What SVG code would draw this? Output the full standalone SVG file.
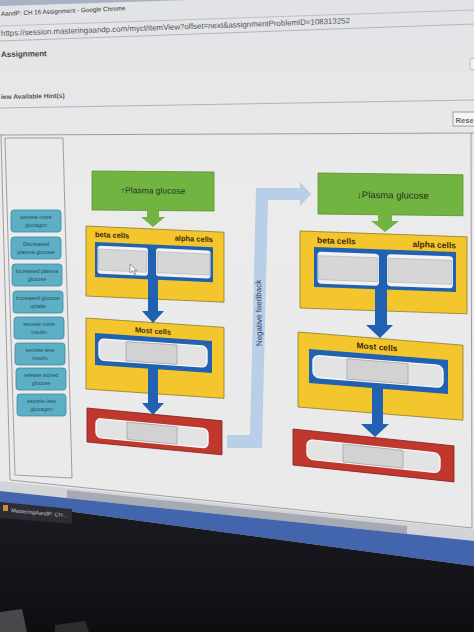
<svg xmlns="http://www.w3.org/2000/svg" width="474" height="632" viewBox="0 0 474 632">
<defs>
<linearGradient id="bg" x1="0" y1="0" x2="0" y2="1">
<stop offset="0" stop-color="#e2e3e6"/><stop offset="0.3" stop-color="#ebebec"/><stop offset="1" stop-color="#e9e9ea"/>
</linearGradient>
<linearGradient id="dark" x1="0" y1="0" x2="0" y2="1">
<stop offset="0" stop-color="#1b1b22"/><stop offset="1" stop-color="#0e0e12"/>
</linearGradient>
</defs>
<style>
text{font-family:"Liberation Sans","DejaVu Sans",sans-serif}
.green{fill:#72b442;stroke:#5a8f32;stroke-width:0.8}
.yellow{fill:#f4c62d;stroke:#8e7c2c;stroke-width:0.8}
.red{fill:#c0372e;stroke:#7e201a;stroke-width:0.8}
.blue{fill:#2161b2}
.slotO{fill:#f2f2f2}
.slotI{fill:#d6d6d6;stroke:#a2a7ad;stroke-width:0.5}
.rowO{fill:#e3e3e3;stroke:#f7f7f7;stroke-width:1.4}
.mid{fill:#d2d2d2;stroke:#979797;stroke-width:0.6}
.lbl{fill:#3a2a0c;font-weight:bold}
.gtxt{fill:#25321a}
.chip rect{fill:#5cafc5;stroke:#3d8ba3;stroke-width:0.8}
.chip text{fill:#2a4c5e;font-size:5.4px;text-anchor:middle}
.conn{fill:#2161b2}
.garrow{fill:#72b442}
.frame{fill:none;stroke:#8c8c8e;stroke-width:0.8}
</style>

<rect x="0" y="0" width="474" height="632" fill="url(#bg)"/>
<polygon points="0,0 190,0 0,6" fill="#a9b2c2"/>

<g id="browser-chrome">
<line x1="0" y1="26" x2="474" y2="10" stroke="#b5b7bb" stroke-width="0.8"/>
<line x1="0" y1="41" x2="474" y2="24" stroke="#a8aaae" stroke-width="0.8"/>
<text x="1" y="16" font-size="6.3" fill="#333" transform="rotate(-2.6 1 16)">AandP: CH 16 Assignment - Google Chrome</text>
<text x="1" y="36" font-size="7.9" fill="#555" transform="rotate(-2.1 1 36)">https://session.masteringaandp.com/myct/itemView?offset=next&amp;assignmentProblemID=108313252</text>
<text x="1" y="57" font-size="8" font-weight="bold" fill="#444" transform="rotate(-1 1 57)">Assignment</text>
<rect x="470" y="58" width="10" height="12" rx="2" fill="#f2f2f2" stroke="#a8a8a8" stroke-width="0.7"/>
<text x="1" y="99" font-size="6.6" font-weight="bold" fill="#555" transform="rotate(-1 1 99)">iew Available Hint(s)</text>
<line x1="0" y1="108" x2="474" y2="100" stroke="#a5a6a9" stroke-width="0.8"/>
<rect x="453" y="112" width="30" height="14" fill="#f4f4f4" stroke="#8a8a8a" stroke-width="0.8"/>
<text x="455.5" y="122.5" font-size="7.6" font-weight="bold" fill="#666">Rese</text>
</g>

<g id="panel">
<polyline class="frame" points="0,135 474,133"/>
<polyline class="frame" points="1,135 10,480 472,528 471,133"/>
<polygon class="frame" points="5,138 63,138 72,478 15,475"/>
</g>

<g id="palette">
<g class="chip"><rect x="11" y="210" width="50" height="22" rx="3"/><text x="36" y="219">secrete more</text><text x="36" y="227">glucagon</text></g>
<g class="chip"><rect x="11" y="237" width="50" height="22" rx="3"/><text x="36" y="246">Decreased</text><text x="36" y="254">plasma glucose</text></g>
<g class="chip"><rect x="12" y="264" width="50" height="22" rx="3"/><text x="37" y="273">Increased plasma</text><text x="37" y="281">glucose</text></g>
<g class="chip"><rect x="13" y="291" width="50" height="22" rx="3"/><text x="38" y="300">Increased glucose</text><text x="38" y="308">uptake</text></g>
<g class="chip"><rect x="14" y="317" width="50" height="22" rx="3"/><text x="39" y="326">secrete more</text><text x="39" y="334">insulin</text></g>
<g class="chip"><rect x="15" y="343" width="50" height="22" rx="3"/><text x="40" y="352">secrete less</text><text x="40" y="360">insulin</text></g>
<g class="chip"><rect x="16" y="368" width="50" height="22" rx="3"/><text x="41" y="377">release stored</text><text x="41" y="385">glucose</text></g>
<g class="chip"><rect x="17" y="394" width="49" height="22" rx="3"/><text x="41.5" y="403">secrete less</text><text x="41.5" y="411">glucagon</text></g>
</g>

<g id="feedback-arrow">
<polygon points="227,435 250,435 256,188 300,188 300,182 311,194 300,206 300,200 268,200 262,448 227,448" fill="#b8cfe7"/>
<text x="259" y="313" font-size="8" fill="#2d3d5e" text-anchor="middle" dominant-baseline="central" transform="rotate(-90.8 259 313)">Negative feedback</text>
</g>

<g id="high-glucose" transform="matrix(1,0.008,0,1,0,-0.736)">
<rect class="green" x="92" y="171" width="122" height="39"/>
<text class="gtxt" x="153" y="193" font-size="8.5" text-anchor="middle">↑Plasma glucose</text>
</g>

<g id="pancreas-left" transform="matrix(1,0.045,0,1,0,-3.87)">
<rect class="yellow" x="86" y="226" width="138" height="70"/>
<text class="lbl" x="95" y="236.5" font-size="7.5">beta cells</text>
<text class="lbl" x="213" y="236.5" font-size="7.5" text-anchor="end">alpha cells</text>
<rect class="blue" x="95" y="241.5" width="118" height="35"/>
<rect class="slotO" x="97.5" y="245" width="50.5" height="28" rx="3"/>
<rect class="slotI" x="98.5" y="248.5" width="48.5" height="21"/>
<rect class="slotO" x="156" y="245" width="54.5" height="28" rx="3"/>
<rect class="slotI" x="157" y="248.5" width="52.5" height="21"/>
<polygon points="130,262 130,271 132.4,268.8 134.4,272.8 135.9,272.1 134,268.3 137,268.3" fill="#f4f4f4" stroke="#555" stroke-width="0.5"/>
</g>

<g id="target-left" transform="matrix(1,0.068,0,1,0,-5.848)">
<rect class="yellow" x="86" y="318" width="138" height="71"/>
<text class="lbl" x="153" y="329" font-size="7.5" text-anchor="middle">Most cells</text>
<rect class="blue" x="95" y="332.5" width="117" height="32"/>
<rect class="rowO" x="99" y="338" width="108" height="21" rx="5"/>
<rect class="mid" x="126" y="338.8" width="51" height="19.4"/>
</g>

<g id="result-left" transform="matrix(1,0.095,0,1,0,-8.265)">
<rect class="red" x="87" y="408" width="135" height="34"/>
<rect class="rowO" x="96" y="417.5" width="112" height="19" rx="5"/>
<rect class="mid" x="127" y="418.3" width="50" height="17.4"/>
</g>

<g id="low-glucose" transform="matrix(1,0.012,0,1,0,-3.816)">
<rect class="green" x="318" y="173" width="145" height="41"/>
<text class="gtxt" x="393" y="197.5" font-size="9.5" text-anchor="middle">↓Plasma glucose</text>
</g>

<g id="pancreas-right" transform="matrix(1,0.035,0,1,0,-10.5)">
<rect class="yellow" x="300" y="231" width="167" height="77"/>
<text class="lbl" x="317" y="242.5" font-size="8.5">beta cells</text>
<text class="lbl" x="456" y="243" font-size="8.5" text-anchor="end">alpha cells</text>
<rect class="blue" x="314" y="246.5" width="142" height="40"/>
<rect class="slotO" x="317.5" y="251" width="61.5" height="32" rx="3.5"/>
<rect class="slotI" x="318.5" y="255" width="59.5" height="24"/>
<rect class="slotO" x="387" y="251" width="66" height="32" rx="3.5"/>
<rect class="slotI" x="388" y="255" width="64" height="24"/>
</g>

<g id="target-right" transform="matrix(1,0.08,0,1,0,-23.84)">
<rect class="yellow" x="298" y="332" width="165" height="75"/>
<text class="lbl" x="377" y="343.5" font-size="8.5" text-anchor="middle">Most cells</text>
<rect class="blue" x="309" y="348" width="139" height="34"/>
<rect class="rowO" x="313" y="354" width="130" height="22" rx="6"/>
<rect class="mid" x="347" y="354.8" width="61" height="20.4"/>
</g>

<g id="result-right" transform="matrix(1,0.105,0,1,0,-30.765)">
<rect class="red" x="293" y="429" width="161" height="36"/>
<rect class="rowO" x="307" y="438" width="133" height="19.5" rx="6"/>
<rect class="mid" x="343" y="438.8" width="60" height="17.9"/>
</g>

<g id="connectors">
<polygon class="garrow" points="147,209 159,209 159,217 165,217 153,227 141,217 147,217"/>
<polygon class="garrow" points="378,214 392,214 392,221 399,221 385,232 371,221 378,221"/>
<polygon class="conn" points="148,276 158,276 158,311 164,311 153,323 142,311 148,311"/>
<polygon class="conn" points="148,366 158,366 158,403 164,403 153,415 142,403 148,403"/>
<polygon class="conn" points="375,286 387,286 387,325 393,325 380,338 366,325 375,325"/>
<polygon class="conn" points="372,385 383,385 383,424 389,424 375,437 361,424 372,424"/>
</g>

<g id="screen-bottom">
<polygon points="0,481 472,529 474,529 474,542 0,491" fill="#d3d4d8"/>
<polygon points="67,490 407,526 407,534 67,498" fill="#a6aab2"/>
<polygon points="0,491 474,541 474,566 0,502" fill="#4265ae"/>
<polygon points="0,502 474,566 474,632 0,632" fill="url(#dark)"/>
<polygon points="0,502 72,509 72,524 0,518" fill="#2c2d34"/>
<rect x="3" y="505" width="5" height="6" fill="#c98a3c"/>
<text x="11" y="512" font-size="5.5" fill="#c3c6ce" transform="rotate(5.5 11 512)">MasteringAandP: CH...</text>
<polygon points="0,612 22,609 27,632 0,632" fill="#48484c"/>
<polygon points="55,625 85,621 89,632 55,632" fill="#2c2c31"/>
</g>
</svg>
